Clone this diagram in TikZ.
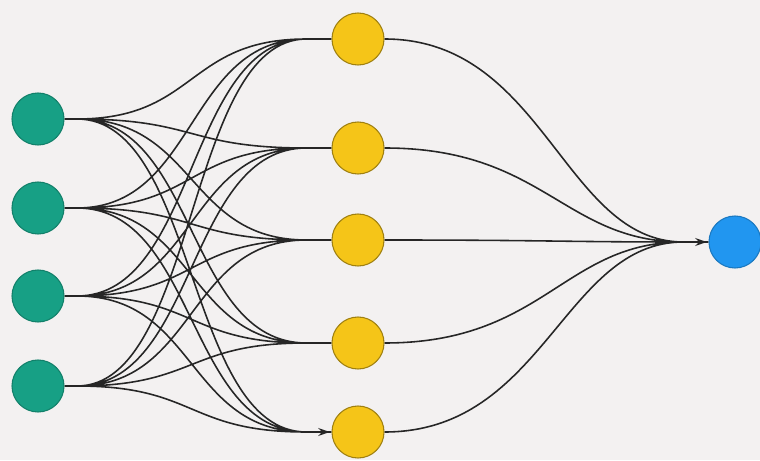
\documentclass[tikz,border=0pt]{standalone}
\usetikzlibrary{arrows.meta}

\definecolor{bgcol}{HTML}{F3F1F1}
\definecolor{incol}{HTML}{17A085}
\definecolor{hidcol}{HTML}{F5C518}
\definecolor{outcol}{HTML}{2196F0}

\tikzset{
  neuron/.style={circle, minimum size=1.04cm, inner sep=0pt, line width=0.6pt},
  inneuron/.style={neuron, fill=incol, draw=incol!80!black},
  hidneuron/.style={neuron, fill=hidcol, draw=hidcol!65!black},
  outneuron/.style={neuron, fill=outcol, draw=outcol!80!black},
  link/.style={line width=0.9pt, black!85, -{Stealth[length=6.5pt,width=4.5pt]},
    shorten >=1pt},
  hidlink/.style={link, to path={-- ++(0.25,0) .. controls +(2.4,0) and +(-2.4,0)
    .. ([xshift=-0.5cm]\tikztotarget) -- (\tikztotarget)}},
  outlink/.style={link, to path={.. controls +(3.2,0) and +(-2.4,0)
    .. ([xshift=-0.5cm]\tikztotarget) -- (\tikztotarget)}}
}

\begin{document}
\begin{tikzpicture}
  \fill[bgcol] (0,0) rectangle (15.2,9.2);
  \useasboundingbox (0,0) rectangle (15.2,9.2);

  % input layer
  \node[inneuron] (I1) at (0.76, 6.82) {};
  \node[inneuron] (I2) at (0.76, 5.04) {};
  \node[inneuron] (I3) at (0.76, 3.28) {};
  \node[inneuron] (I4) at (0.76, 1.48) {};

  % hidden layer
  \node[hidneuron] (H1) at (7.16, 8.42) {};
  \node[hidneuron] (H2) at (7.16, 6.24) {};
  \node[hidneuron] (H3) at (7.16, 4.40) {};
  \node[hidneuron] (H4) at (7.16, 2.34) {};
  \node[hidneuron] (H5) at (7.16, 0.56) {};

  % output layer
  \node[outneuron] (O) at (14.70, 4.36) {};

  \draw[hidlink]
  (I1.east) to (H1.west)
  (I1.east) to (H2.west)
  (I1.east) to (H3.west)
  (I1.east) to (H4.west)
  (I1.east) to (H5.west)
  (I2.east) to (H1.west)
  (I2.east) to (H2.west)
  (I2.east) to (H3.west)
  (I2.east) to (H4.west)
  (I2.east) to (H5.west)
  (I3.east) to (H1.west)
  (I3.east) to (H2.west)
  (I3.east) to (H3.west)
  (I3.east) to (H4.west)
  (I3.east) to (H5.west)
  (I4.east) to (H1.west)
  (I4.east) to (H2.west)
  (I4.east) to (H3.west)
  (I4.east) to (H4.west)
  (I4.east) to (H5.west);

  \draw[outlink]
  (H1.east) to (O.west)
  (H2.east) to (O.west)
  (H3.east) to (O.west)
  (H4.east) to (O.west)
  (H5.east) to (O.west);
\end{tikzpicture}
\end{document}
